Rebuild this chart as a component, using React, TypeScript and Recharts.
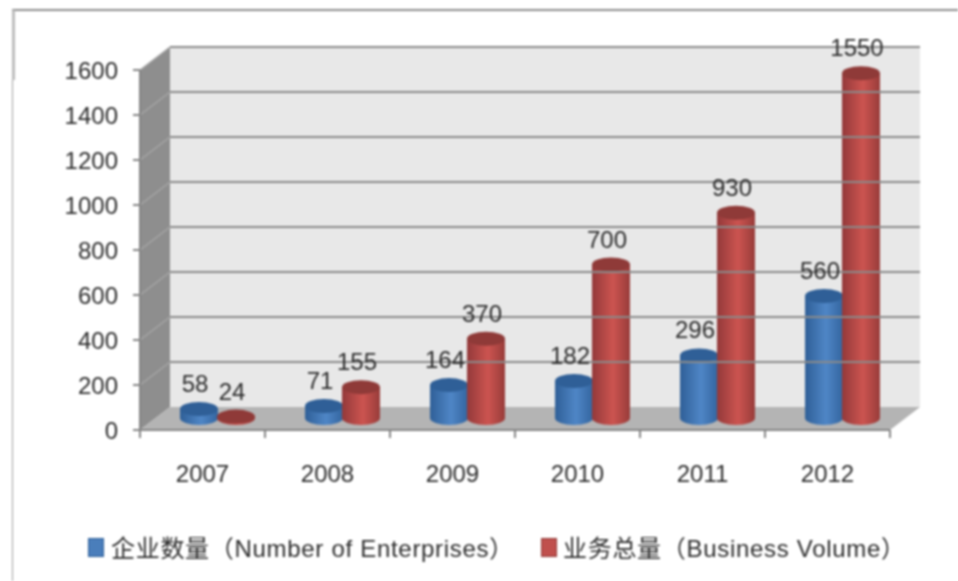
import React from "react";
import { ComposedChart, Bar, XAxis, YAxis, ReferenceArea, ReferenceLine, LabelList, Legend } from "recharts";

const years = ["2007", "2008", "2009", "2010", "2011", "2012"];
const enterprises = [58, 71, 164, 182, 296, 560];
const volume = [24, 155, 370, 700, 930, 1550];
const yTicks = [0, 200, 400, 600, 800, 1000, 1200, 1400, 1600];
const enterprisesName = "企业数量（Number of Enterprises）";
const volumeName = "业务总量（Business Volume）";

const rows = years.map((year, i) => ({ year, enterprises: enterprises[i], volume: volume[i] }));

const DX = 15;
const DY = -11;
const BACK_DY = -23;
const BACK_DX = 30;
const FONT = "'Liberation Sans', 'Noto Sans CJK SC', sans-serif";
const TEXT = "#2c2c2c";

const Walls = (p: any) => {
  const { x, y, width, height } = p;
  const b = y + height;
  const step = width / years.length;
  return (
    <g>
      <polygon points={`${x + BACK_DX},${y + BACK_DY} ${x + width + BACK_DX},${y + BACK_DY} ${x + width + BACK_DX},${b + BACK_DY} ${x + BACK_DX},${b + BACK_DY}`} fill="#e8e8e8" />
      <polygon points={`${x},${y} ${x + BACK_DX},${y + BACK_DY} ${x + BACK_DX},${b + BACK_DY} ${x},${b}`} fill="#8e8e8e" />
      <polygon points={`${x},${b} ${x + BACK_DX},${b + BACK_DY} ${x + width + BACK_DX},${b + BACK_DY} ${x + width},${b}`} fill="#b4b4b4" />
      {[...years, ""].map((_, i) => (
        <line key={i} x1={x + i * step} y1={b} x2={x + i * step} y2={b + 8} stroke="#858585" strokeWidth={2} />
      ))}
    </g>
  );
};

const GridLine = (p: any) => {
  const x1 = Math.min(p.x1 ?? p.viewBox?.x, p.x2 ?? p.viewBox?.x);
  const x2 = Math.max(p.x1 ?? 0, p.x2 ?? 0);
  const y = p.y1;
  return (
    <g>
      <line x1={x1} y1={y} x2={x1 + BACK_DX} y2={y + BACK_DY} stroke="#a8a8a8" strokeWidth={1.2} />
      <line x1={x1 + BACK_DX} y1={y + BACK_DY} x2={x2 + BACK_DX} y2={y + BACK_DY} stroke="#8a8a8a" strokeWidth={2} />
    </g>
  );
};

const cylinder = (body: string, top: string) => (p: any) => {
  const { x, y, width, height } = p;
  const cx = x + width / 2 + DX;
  const rx = width / 2;
  const ry = 7;
  const topY = y + DY + 3;
  const baseY = y + height + DY - 1;
  const left = cx - rx;
  const right = cx + rx;
  return (
    <g>
      <path
        d={`M${left},${topY} L${left},${baseY} A${rx},${ry} 0 0 0 ${right},${baseY} L${right},${topY} Z`}
        fill={`url(#${body})`}
      />
      <ellipse cx={cx} cy={topY} rx={rx} ry={ry} fill={top} />
    </g>
  );
};

const ValueLabel = (p: any) => (
  <text
    x={p.x + p.width / 2 + DX - 4}
    y={p.y + DY - 14}
    textAnchor="middle"
    fontFamily={FONT}
    fontSize={24}
    fill={TEXT}
  >
    {p.value}
  </text>
);

const LegendContent = () => (
  <div style={{ position: "relative", width: 900, height: 40, fontFamily: FONT, fontSize: 24, letterSpacing: 0.7, color: TEXT, whiteSpace: "nowrap" }}>
    <span style={{ position: "absolute", left: 0, top: 6, width: 16, height: 19, background: "#4a7ebb", border: "1px solid #2f5f97", boxSizing: "border-box" }} />
    <span style={{ position: "absolute", left: 23, top: -3 }}>{enterprisesName}</span>
    <span style={{ position: "absolute", left: 453, top: 6, width: 16, height: 19, background: "#c0504d", border: "1px solid #8f3a38", boxSizing: "border-box" }} />
    <span style={{ position: "absolute", left: 475, top: -3 }}>{volumeName}</span>
  </div>
);

export default function App() {
  return (
    <div style={{ position: "absolute", left: 0, top: 0, width: 958, height: 581, background: "#fff", overflow: "hidden", filter: "blur(0.8px)" }}>
      <div style={{ position: "absolute", left: 12, top: 9, width: 946, height: 2, background: "#8c8c8c" }} />
      <div style={{ position: "absolute", left: 12, top: 10, width: 3, height: 70, background: "#bdbdbd" }} />
      <div style={{ position: "absolute", left: 12, top: 80, width: 1, height: 501, background: "#a0a0a0" }} />
      <ComposedChart
        width={958}
        height={581}
        data={rows}
        margin={{ top: 70, right: 68, bottom: 111, left: 0 }}
        barSize={38}
        barGap={-1}
        style={{ position: "absolute", left: 0, top: 0 }}
      >
        <defs>
          <linearGradient id="blueBody" x1="0" y1="0" x2="1" y2="0">
            <stop offset="0" stopColor="#2f5f97" />
            <stop offset="0.55" stopColor="#4f86c6" />
            <stop offset="1" stopColor="#33659f" />
          </linearGradient>
          <linearGradient id="redBody" x1="0" y1="0" x2="1" y2="0">
            <stop offset="0" stopColor="#93393a" />
            <stop offset="0.55" stopColor="#cc5450" />
            <stop offset="1" stopColor="#983c3a" />
          </linearGradient>
        </defs>
        <ReferenceArea y1={0} y2={1600} shape={Walls} fill="none" stroke="none" ifOverflow="visible" />
        {yTicks.slice(1).map((t) => (
          <ReferenceLine key={t} y={t} shape={GridLine} ifOverflow="visible" />
        ))}
        <XAxis
          dataKey="year"
          height={40}
          axisLine={{ stroke: "#858585", strokeWidth: 2 }}
          tickLine={false}
          tick={{ fontFamily: FONT, fontSize: 24, fill: TEXT }}
          tickSize={8}
          tickMargin={27}
          interval={0}
        />
        <YAxis
          width={140}
          domain={[0, 1600]}
          ticks={yTicks}
          axisLine={{ stroke: "#858585", strokeWidth: 2 }}
          tickLine={{ stroke: "#858585", strokeWidth: 2 }}
          tick={{ fontFamily: FONT, fontSize: 24, fill: TEXT }}
          tickSize={7}
          tickMargin={15}
          interval={0}
        />
        <Legend
          content={LegendContent}
          layout="horizontal"
          verticalAlign="middle"
          wrapperStyle={{ position: "absolute", left: 88, top: 532, width: 900, height: 40 }}
        />
        <Bar dataKey="enterprises" name={enterprisesName} fill="#4a7ebb" shape={cylinder("blueBody", "#2f5f97")} isAnimationActive={false}>
          <LabelList dataKey="enterprises" content={ValueLabel} />
        </Bar>
        <Bar dataKey="volume" name={volumeName} fill="#c0504d" shape={cylinder("redBody", "#8f3a38")} isAnimationActive={false}>
          <LabelList dataKey="volume" content={ValueLabel} />
        </Bar>
      </ComposedChart>
    </div>
  );
}
